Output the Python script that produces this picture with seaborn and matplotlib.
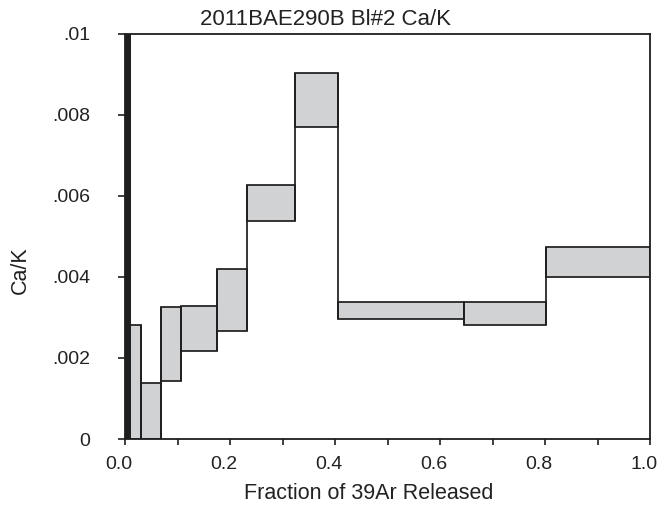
import matplotlib
matplotlib.use("Agg")
import matplotlib.pyplot as plt
import matplotlib.transforms as mtransforms
import numpy as np
import seaborn as sns

# Step boundaries (cumulative fraction of 39Ar released)
step_edges = [0.0, 0.0095, 0.031, 0.0686, 0.107, 0.176, 0.232, 0.324, 0.405, 0.646, 0.802, 1.0]
# Upper and lower limits of the Ca/K value for each heating step
cak_high = [0.0105, 0.00281, 0.00137, 0.00325, 0.00329, 0.00419, 0.00626, 0.00902, 0.00339, 0.00339, 0.00473]
cak_low = [0.0, 0.0, 0.0, 0.00143, 0.00217, 0.00266, 0.00538, 0.00769, 0.00295, 0.00280, 0.00399]

y_ticks = [0, 0.002, 0.004, 0.006, 0.008, 0.01]
y_tick_labels = ["0", ".002", ".004", ".006", ".008", ".01"]
x_ticks = [0.0, 0.2, 0.4, 0.6, 0.8, 1.0]
x_tick_labels = ["0.0", "0.2", "0.4", "0.6", "0.8", "1.0"]

sns.set_style("ticks")
plt.rcParams["font.family"] = ["Liberation Sans", "DejaVu Sans"]

LINE = "#1e1e1e"
TEXT = "#222222"
FILL = "#d1d2d4"
LW = 1.25

fig = plt.figure(figsize=(6.62, 5.08), dpi=100)
ax = fig.add_axes([125 / 662, 69 / 508, 525 / 662, 405.5 / 508])

edges = np.array(step_edges)
lefts = edges[:-1]
widths = np.diff(edges)
lows = np.array(cak_low)
highs = np.array(cak_high)

colors = [LINE] + [FILL] * (len(lefts) - 1)
ax.bar(lefts, highs - lows, width=widths, bottom=lows, align="edge",
       color=colors, edgecolor=LINE, linewidth=LW, zorder=2)

# vertical risers joining neighbouring steps
for i in range(1, len(lefts)):
    y0 = min(lows[i - 1], lows[i])
    y1 = max(highs[i - 1], highs[i])
    ax.vlines(edges[i], y0, y1, color=LINE, linewidth=LW, zorder=3)

ax.set_xlim(0, 1.0)
ax.set_ylim(0, 0.01)

ax.set_xticks(x_ticks)
ax.set_xticklabels(x_tick_labels)
ax.set_xticks(np.arange(0.1, 1.0, 0.2), minor=True)
ax.set_yticks(y_ticks)
ax.set_yticklabels(y_tick_labels)

for side in ["left", "right", "top", "bottom"]:
    ax.spines[side].set_visible(True)
    ax.spines[side].set_color(LINE)
    ax.spines[side].set_linewidth(1.3)
    ax.spines[side].set_zorder(4)

ax.tick_params(axis="x", which="both", direction="out", length=4, width=1.2,
               color=LINE, labelsize=14, pad=8, labelcolor=TEXT)
ax.tick_params(axis="y", which="major", direction="out", length=5, width=1.2,
               color=LINE, labelsize=14, pad=20, labelcolor=TEXT)
ax.tick_params(top=False, right=False)

# nudge the x tick labels slightly to the left of their ticks
shift = mtransforms.ScaledTranslation(-6 / 100, 0, fig.dpi_scale_trans)
for lbl in ax.get_xticklabels():
    lbl.set_transform(lbl.get_transform() + shift)

ax.set_xlabel("Fraction of 39Ar Released", fontsize=15.5, color=TEXT)
ax.xaxis.label.set_va("baseline")
ax.xaxis.set_label_coords((369 - 125) / 525, (439 - 499) / 405.5)
ax.set_ylabel("Ca/K", fontsize=15.5, color=TEXT)
ax.yaxis.label.set_va("baseline")
ax.yaxis.set_label_coords((26 - 125) / 525, (439 - 270) / 405.5)

fig.text(326 / 662, 1 - 25 / 508, "2011BAE290B Bl#2 Ca/K", ha="center", va="baseline",
         fontsize=16, color=TEXT)

ax.grid(False)
fig.savefig("out.png", dpi=100)
